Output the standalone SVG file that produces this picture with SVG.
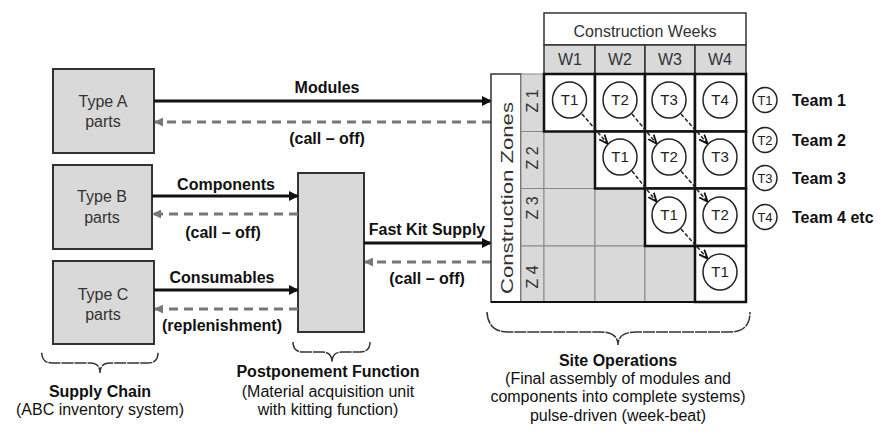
<svg xmlns="http://www.w3.org/2000/svg" width="881" height="433" viewBox="0 0 881 433">
<defs>
<marker id="ah" viewBox="0 0 10 10" refX="9" refY="5" markerWidth="10" markerHeight="10" markerUnits="userSpaceOnUse" orient="auto">
<path d="M0,0 L10,5 L0,10 z" fill="#111"/>
</marker>
<marker id="ahg" viewBox="0 0 10 10" refX="9" refY="5" markerWidth="9" markerHeight="9" markerUnits="userSpaceOnUse" orient="auto">
<path d="M0,0 L10,5 L0,10 z" fill="#777"/>
</marker>
<marker id="ahs" viewBox="0 0 10 10" refX="9" refY="5" markerWidth="9" markerHeight="9" markerUnits="userSpaceOnUse" orient="auto">
<path d="M0,1 L10,5 L0,9" fill="none" stroke="#111" stroke-width="2"/>
</marker>
</defs>
<style>
text{font-family:"Liberation Sans",Arial,sans-serif;}
.box{fill:#d9d9d9;stroke:#333;stroke-width:2;}
.bl{font-size:16px;fill:#333;text-anchor:middle;}
.lab{font-size:16px;font-weight:bold;fill:#111;text-anchor:middle;}
.sub{font-size:16px;fill:#111;text-anchor:middle;}
.fw{stroke:#111;stroke-width:3;fill:none;marker-end:url(#ah);}
.bk{stroke:#777;stroke-width:3;fill:none;stroke-dasharray:9,6;marker-end:url(#ahg);}
.brace{fill:none;stroke:#333;stroke-width:1.5;stroke-dasharray:12,1;}
.gc{fill:#d9d9d9;stroke:#888;stroke-width:1;}
.wc{fill:#fff;stroke:#111;stroke-width:2.5;}
.hd{fill:#d9d9d9;stroke:#333;stroke-width:1.5;}
.gt{font-size:16px;fill:#333;text-anchor:middle;}
.tc{fill:#fff;stroke:#222;stroke-width:1.5;}
.tt{font-size:15px;fill:#222;text-anchor:middle;}
.lt{font-size:13px;fill:#222;text-anchor:middle;}
.team{font-size:16px;font-weight:bold;fill:#111;}
.dg{stroke:#222;stroke-width:1.5;stroke-dasharray:4,2;fill:none;marker-end:url(#ahs);}
</style>

<g id="typeA">
<rect class="box" x="53" y="69" width="101" height="84"/>
<text class="bl" x="103" y="107">Type A</text>
<text class="bl" x="103" y="127">parts</text>
</g>
<g id="typeB">
<rect class="box" x="53" y="165" width="99" height="84"/>
<text class="bl" x="102" y="202">Type B</text>
<text class="bl" x="102" y="223">parts</text>
</g>
<g id="typeC">
<rect class="box" x="53" y="261" width="101" height="83"/>
<text class="bl" x="103" y="300">Type C</text>
<text class="bl" x="103" y="320">parts</text>
</g>
<g id="postponement">
<rect class="box" x="298" y="173" width="66" height="159"/>
</g>

<g id="connectors">
<line class="fw" x1="154" y1="101" x2="491" y2="101"/>
<line class="bk" x1="491" y1="122" x2="155" y2="122"/>
<line class="fw" x1="152" y1="196" x2="298" y2="196"/>
<line class="bk" x1="298" y1="214" x2="153" y2="214"/>
<line class="fw" x1="154" y1="290" x2="298" y2="290"/>
<line class="bk" x1="298" y1="309" x2="155" y2="309"/>
<line class="fw" x1="364" y1="243" x2="491" y2="243"/>
<line class="bk" x1="491" y1="262" x2="365" y2="262"/>
<text class="lab" x="327" y="93">Modules</text>
<text class="lab" x="327" y="144" font-size="15">(call – off)</text>
<text class="lab" x="226" y="190">Components</text>
<text class="lab" x="223" y="238" font-size="15">(call – off)</text>
<text class="lab" x="222" y="283">Consumables</text>
<text class="lab" x="222" y="331">(replenishment)</text>
<text class="lab" x="427" y="235">Fast Kit Supply</text>
<text class="lab" x="427" y="284" font-size="15">(call – off)</text>
</g>

<g id="site-grid">
<rect x="544" y="13" width="202" height="32" fill="#fff" stroke="#333" stroke-width="1.5"/>
<text class="gt" x="645" y="37">Construction Weeks</text>
<rect class="hd" x="544" y="45" width="51" height="29"/>
<rect class="hd" x="595" y="45" width="50" height="29"/>
<rect class="hd" x="645" y="45" width="50" height="29"/>
<rect class="hd" x="695" y="45" width="51" height="29"/>
<text class="gt" x="570" y="65">W1</text>
<text class="gt" x="620" y="65">W2</text>
<text class="gt" x="670" y="65">W3</text>
<text class="gt" x="720" y="65">W4</text>

<rect x="491" y="74" width="30" height="228" fill="#fff" stroke="#333" stroke-width="1.5"/>
<text class="gt" transform="translate(513,198) rotate(-90)" font-size="20" textLength="192" lengthAdjust="spacingAndGlyphs">Construction Zones</text>
<rect class="gc" x="521" y="74" width="23" height="57.5"/>
<rect class="gc" x="521" y="131.5" width="23" height="57"/>
<rect class="gc" x="521" y="188.5" width="23" height="57.5"/>
<rect class="gc" x="521" y="246" width="23" height="56"/>
<text class="gt" transform="translate(538,101) rotate(-90)">Z 1</text>
<text class="gt" transform="translate(538,158) rotate(-90)">Z 2</text>
<text class="gt" transform="translate(538,208) rotate(-90)">Z 3</text>
<text class="gt" transform="translate(538,277) rotate(-90)">Z 4</text>

<rect class="gc" x="544" y="131.5" width="51" height="57"/>
<rect class="gc" x="544" y="188.5" width="51" height="57.5"/>
<rect class="gc" x="595" y="188.5" width="50" height="57.5"/>
<rect class="gc" x="544" y="246" width="51" height="56"/>
<rect class="gc" x="595" y="246" width="50" height="56"/>
<rect class="gc" x="645" y="246" width="50" height="56"/>

<rect class="wc" x="544" y="74" width="51" height="57.5"/>
<rect class="wc" x="595" y="74" width="50" height="57.5"/>
<rect class="wc" x="645" y="74" width="50" height="57.5"/>
<rect class="wc" x="695" y="74" width="51" height="57.5"/>
<rect class="wc" x="595" y="131.5" width="50" height="57"/>
<rect class="wc" x="645" y="131.5" width="50" height="57"/>
<rect class="wc" x="695" y="131.5" width="51" height="57"/>
<rect class="wc" x="645" y="188.5" width="50" height="57.5"/>
<rect class="wc" x="695" y="188.5" width="51" height="57.5"/>
<rect class="wc" x="695" y="246" width="51" height="56"/>
<line x1="491" y1="302" x2="746" y2="302" stroke="#111" stroke-width="2"/>
</g>

<g id="grid-arrows">
<line class="dg" x1="582" y1="114" x2="607" y2="143"/>
<line class="dg" x1="632" y1="114" x2="656" y2="143"/>
<line class="dg" x1="681" y1="114" x2="707" y2="143"/>
<line class="dg" x1="632" y1="171" x2="656" y2="201"/>
<line class="dg" x1="681" y1="171" x2="707" y2="201"/>
<line class="dg" x1="681" y1="229" x2="707" y2="258"/>
</g>

<g id="teams">
<ellipse class="tc" cx="569.5" cy="100" rx="17" ry="18"/><text class="tt" x="569.5" y="105">T1</text>
<ellipse class="tc" cx="620" cy="100" rx="17" ry="18"/><text class="tt" x="620" y="105">T2</text>
<ellipse class="tc" cx="669" cy="100" rx="17" ry="18"/><text class="tt" x="669" y="105">T3</text>
<ellipse class="tc" cx="720" cy="100" rx="17" ry="18"/><text class="tt" x="720" y="105">T4</text>
<ellipse class="tc" cx="620" cy="157" rx="17" ry="18"/><text class="tt" x="620" y="162">T1</text>
<ellipse class="tc" cx="669" cy="157" rx="17" ry="18"/><text class="tt" x="669" y="162">T2</text>
<ellipse class="tc" cx="720" cy="157" rx="17" ry="18"/><text class="tt" x="720" y="162">T3</text>
<ellipse class="tc" cx="669" cy="215" rx="17" ry="18"/><text class="tt" x="669" y="220">T1</text>
<ellipse class="tc" cx="720" cy="215" rx="17" ry="18"/><text class="tt" x="720" y="220">T2</text>
<ellipse class="tc" cx="720" cy="272" rx="17" ry="18"/><text class="tt" x="720" y="277">T1</text>
</g>

<g id="legend">
<ellipse class="tc" cx="765" cy="100" rx="12" ry="12.5"/><text class="lt" x="765" y="105">T1</text>
<text class="team" x="792" y="106">Team 1</text>
<ellipse class="tc" cx="765" cy="140" rx="12" ry="12.5"/><text class="lt" x="765" y="145">T2</text>
<text class="team" x="792" y="146">Team 2</text>
<ellipse class="tc" cx="765" cy="178" rx="12" ry="12.5"/><text class="lt" x="765" y="183">T3</text>
<text class="team" x="792" y="184">Team 3</text>
<ellipse class="tc" cx="765" cy="217" rx="12" ry="12.5"/><text class="lt" x="765" y="222">T4</text>
<text class="team" x="792" y="223">Team 4 etc</text>
</g>

<g id="supply-chain-label">
<path class="brace" d="M41.7,352.7 Q42,363 52,363 L90,363 Q100,363 100,373 Q100,363 110,363 L148,363 Q158,363 158,352.7"/>
<text class="lab" x="100" y="397">Supply Chain</text>
<text class="sub" x="100" y="415">(ABC inventory system)</text>
</g>
<g id="postponement-label">
<path class="brace" d="M293,342 Q293,352 303,352 L322,352 Q332,352 332,362 Q332,352 342,352 L360,352 Q370,352 370,342"/>
<text class="lab" x="328" y="377">Postponement Function</text>
<text class="sub" x="328" y="397">(Material acquisition unit</text>
<text class="sub" x="328" y="415">with kitting function)</text>
</g>
<g id="site-label">
<path class="brace" d="M487,312 Q488,332 508,332 L600,332 Q618,332 618,345 Q618,332 636,332 L730,332 Q750,332 750,312"/>
<text class="lab" x="618" y="366">Site Operations</text>
<text class="sub" x="618" y="384">(Final assembly of modules and</text>
<text class="sub" x="618" y="402">components into complete systems)</text>
<text class="sub" x="618" y="421">pulse-driven (week-beat)</text>
</g>
</svg>
